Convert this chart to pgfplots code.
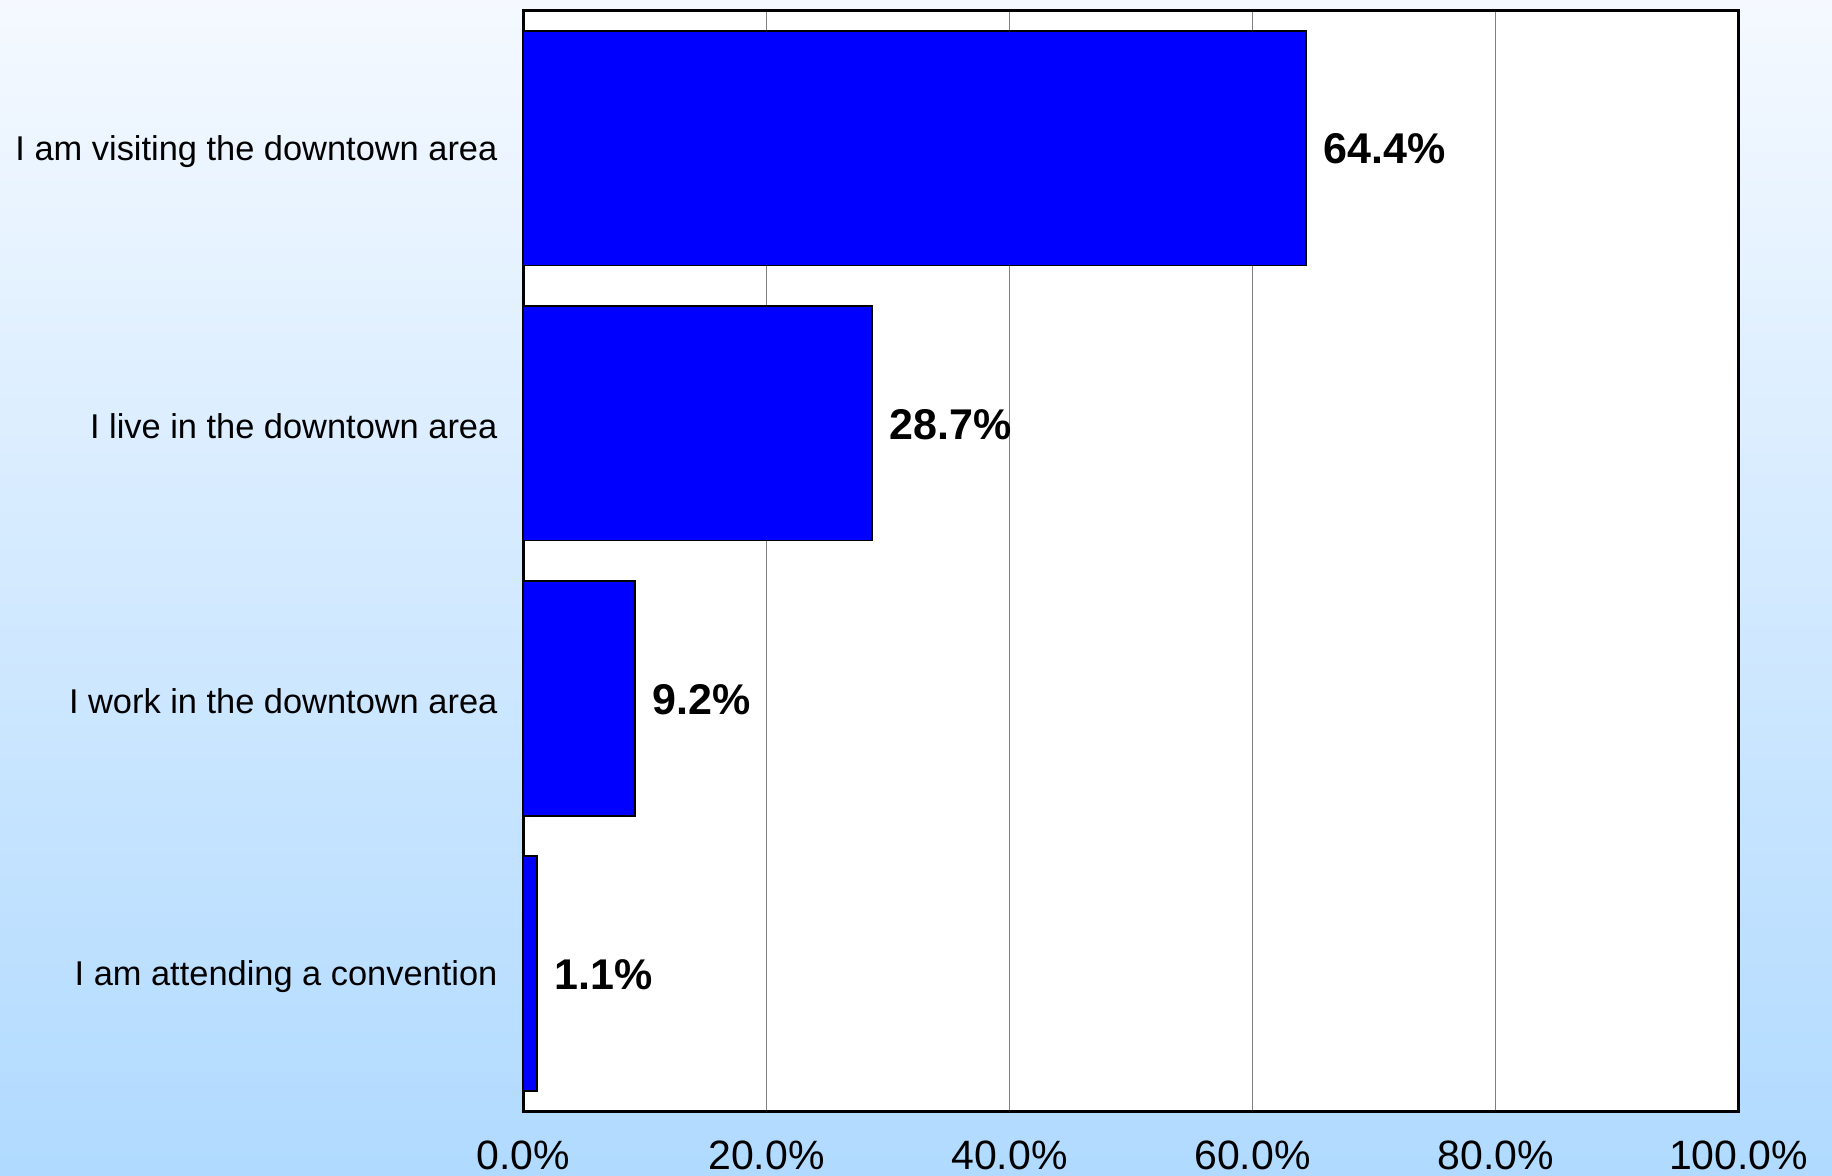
\documentclass[border=0pt]{standalone}
\usepackage{fontspec}
\setmainfont{Liberation Sans}
\usepackage{pgfplots}
\pgfplotsset{compat=1.18}
\definecolor{bgtop}{RGB}{245,249,255}
\definecolor{bgbot}{RGB}{176,218,255}
\definecolor{barblue}{RGB}{0,0,255}
\begin{document}
\begin{tikzpicture}
\shade[top color=bgtop,bottom color=bgbot] (0,0) rectangle (916pt,587.5pt);
\begin{axis}[
  at={(261.7pt,32pt)}, anchor=south west,
  width=607.6pt, height=550.2pt, scale only axis,
  xbar, xmin=0, xmax=100, ymin=0.5, ymax=4.5, y dir=reverse,
  ytick={1,2,3,4},
  yticklabels={I am visiting the downtown area, I live in the downtown area, I work in the downtown area, I am attending a convention},
  yticklabel style={font=\fontsize{17.2}{20}\selectfont, xshift=-9.5pt, yshift=-1.6pt},
  xtick={0,20,40,60,80,100},
  xticklabel={\pgfmathprintnumber[fixed,fixed zerofill,precision=1]{\tick}\%},
  xticklabel style={font=\fontsize{20.5}{24}\selectfont, yshift=-11.5pt},
  /pgf/number format/assume math mode=true,
  bar width=0.853,
  major tick length=0,
  xmajorgrids, grid style={color=gray, line width=0.6pt},
  axis line style={line width=1.5pt},
  axis background/.style={fill=white},
  nodes near coords={\pgfmathprintnumber[fixed,fixed zerofill,precision=1]{\pgfplotspointmeta}\%},
  nodes near coords style={font=\fontsize{21.5}{24}\bfseries, anchor=west, xshift=5pt, yshift=-0.5pt},
  point meta=explicit,
]
\addplot[fill=barblue, draw=black, line width=0.8pt] coordinates {
  (64.4,1) [64.4]
  (28.7,2) [28.7]
  (9.2,3) [9.2]
  (1.1,4) [1.1]
};
\end{axis}
\pgfresetboundingbox
\useasboundingbox (0,0) rectangle (916pt,587.5pt);
\end{tikzpicture}
\end{document}
